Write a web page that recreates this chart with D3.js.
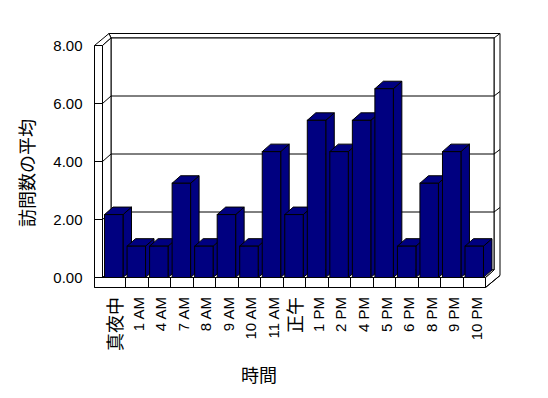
<!DOCTYPE html>
<html>
<head>
<meta charset="utf-8">
<script src="https://cdn.jsdelivr.net/npm/d3@7"></script>
<style>
  body { margin: 0; background: #fff; }
  svg { display: block; }
  text { font-family: "Liberation Sans", Arial, "Noto Sans CJK JP", sans-serif; fill: #000; }
  .cjk { font-family: "Noto Sans CJK JP", sans-serif; }
</style>
</head>
<body>
<svg id="chart" width="548" height="398"></svg>
<script>
const categories = ["真夜中", "1 AM", "4 AM", "7 AM", "8 AM", "9 AM", "10 AM", "11 AM", "正午",
  "1 PM", "2 PM", "4 PM", "5 PM", "6 PM", "8 PM", "9 PM", "10 PM"];
const visits = [2.17, 1.08, 1.08, 3.25, 1.08, 2.17, 1.08, 4.34, 2.17,
  5.42, 4.34, 5.42, 6.51, 1.08, 3.25, 4.34, 1.08];
const yTicks = [0, 2, 4, 6, 8];
const xTitle = "時間";
const yTitle = "訪問数の平均";

const svg = d3.select("#chart");
const left = 102.5, right = 485.5;       // front plane
const wallW = 8, floorH = 10;             // wall / floor thickness
const D = { x: 8.5, y: -7.5 };            // depth of the plot box
const T = { x: 6, y: -4.5 };              // back wall thickness

const x = d3.scaleBand().domain(categories).range([left, right])
  .paddingInner(0.18).paddingOuter(0.09);
const y = d3.scaleLinear().domain([0, 8]).range([277.5, 45.5]);
const step = x.step();
const isCjk = s => /[^\x00-\x7f]/.test(s);

const line = (x1, y1, x2, y2) => svg.append("line")
  .attr("x1", x1).attr("y1", y1).attr("x2", x2).attr("y2", y2)
  .attr("stroke", "#000").attr("stroke-width", 1);
const poly = (pts, fill) => svg.append("polygon")
  .attr("points", pts.map(p => p.join(",")).join(" "))
  .attr("fill", fill).attr("stroke", "#000").attr("stroke-width", 1)
  .attr("stroke-linejoin", "miter");

const y0 = y(0), y8 = y(8);
const bx0 = left + D.x, bx1 = right + D.x;   // back wall front face

// back wall slab
poly([[left - wallW + D.x + T.x, y8 + D.y + T.y], [bx1 + T.x, y8 + D.y + T.y],
      [bx1 + T.x, y0 + floorH + D.y + T.y], [right, y0 + floorH],
      [right, y0], [bx1, y0 + D.y], [bx1, y8 + D.y], [bx0, y8 + D.y]], "#fff");
poly([[bx0, y8 + D.y], [bx1, y8 + D.y], [bx1, y0 + D.y], [bx0, y0 + D.y]], "#fff");
line(bx1, y8 + D.y, bx1 + T.x, y8 + D.y + T.y);

// left wall slab
poly([[left - wallW, y8], [left, y8], [bx0, y8 + D.y],
      [left - wallW + D.x + T.x, y8 + D.y + T.y]], "#fff");
poly([[left - wallW, y8], [left, y8], [left, y0 + floorH], [left - wallW, y0 + floorH]], "#fff");
poly([[left, y8], [bx0, y8 + D.y], [bx0, y0 + D.y], [left, y0]], "#fff");

// gridlines
yTicks.filter(v => v > 0 && v < 8).forEach(v => {
  line(left - wallW, y(v), left, y(v));
  line(left, y(v), bx0, y(v) + D.y);
  line(bx0, y(v) + D.y, bx1, y(v) + D.y);
  line(bx1, y(v) + D.y, bx1 + T.x, y(v) + D.y + T.y);
});

// floor
poly([[left, y0], [right, y0], [bx1, y0 + D.y], [bx0, y0 + D.y]], "#fff");
poly([[left - wallW, y0], [right, y0], [right, y0 + floorH], [left - wallW, y0 + floorH]], "#fff");
line(right, y0 + floorH, bx1 + T.x, y0 + floorH + D.y + T.y);
categories.slice(1).forEach(c => {
  const tx = Math.round(x(c) - step * x.paddingInner() / 2) + 0.5;
  line(tx, y0, tx, y0 + floorH);
});

// bars
categories.forEach((c, i) => {
  const xl = x(c), xr = x(c) + x.bandwidth(), yt = y(visits[i]);
  const g = svg.append("g");
  g.append("polygon")
    .attr("points", [[xr, yt], [xr + D.x, yt + D.y], [xr + D.x, y0 + D.y], [xr, y0]].join(" "))
    .attr("fill", "#000080").attr("stroke", "#000");
  g.append("polygon")
    .attr("points", [[xl, yt], [xl + D.x, yt + D.y], [xr + D.x, yt + D.y], [xr, yt]].join(" "))
    .attr("fill", "#000080").attr("stroke", "#000");
  g.append("rect")
    .attr("x", xl).attr("y", yt).attr("width", x.bandwidth()).attr("height", y0 - yt)
    .attr("fill", "#000080").attr("stroke", "#000");
});

// y axis labels
svg.append("g")
  .attr("transform", `translate(${left - wallW},0)`)
  .call(d3.axisLeft(y).tickValues(yTicks).tickFormat(d3.format(".2f")).tickSize(0).tickPadding(12))
  .call(g => g.select(".domain").remove())
  .selectAll("text")
  .style("font-family", '"Liberation Sans", Arial, sans-serif')
  .style("font-size", "15px");

// x labels
categories.forEach(c => {
  const cx = x(c) + x.bandwidth() / 2 + 2;
  svg.append("text")
    .attr("class", isCjk(c) ? "cjk" : null)
    .attr("transform", `translate(${cx},297) rotate(-90)`)
    .attr("text-anchor", "end")
    .attr("dy", "0.36em")
    .attr("font-size", isCjk(c) ? "18px" : "15px")
    .text(c);
});

// titles
svg.append("text").attr("class", "cjk")
  .attr("x", 259).attr("y", 376).attr("dy", "0.35em")
  .attr("text-anchor", "middle").attr("font-size", "18px")
  .text(xTitle);
svg.append("text").attr("class", "cjk")
  .attr("transform", "translate(28,173) rotate(-90)")
  .attr("dy", "0.35em")
  .attr("text-anchor", "middle").attr("font-size", "18px")
  .text(yTitle);
</script>
</body>
</html>
